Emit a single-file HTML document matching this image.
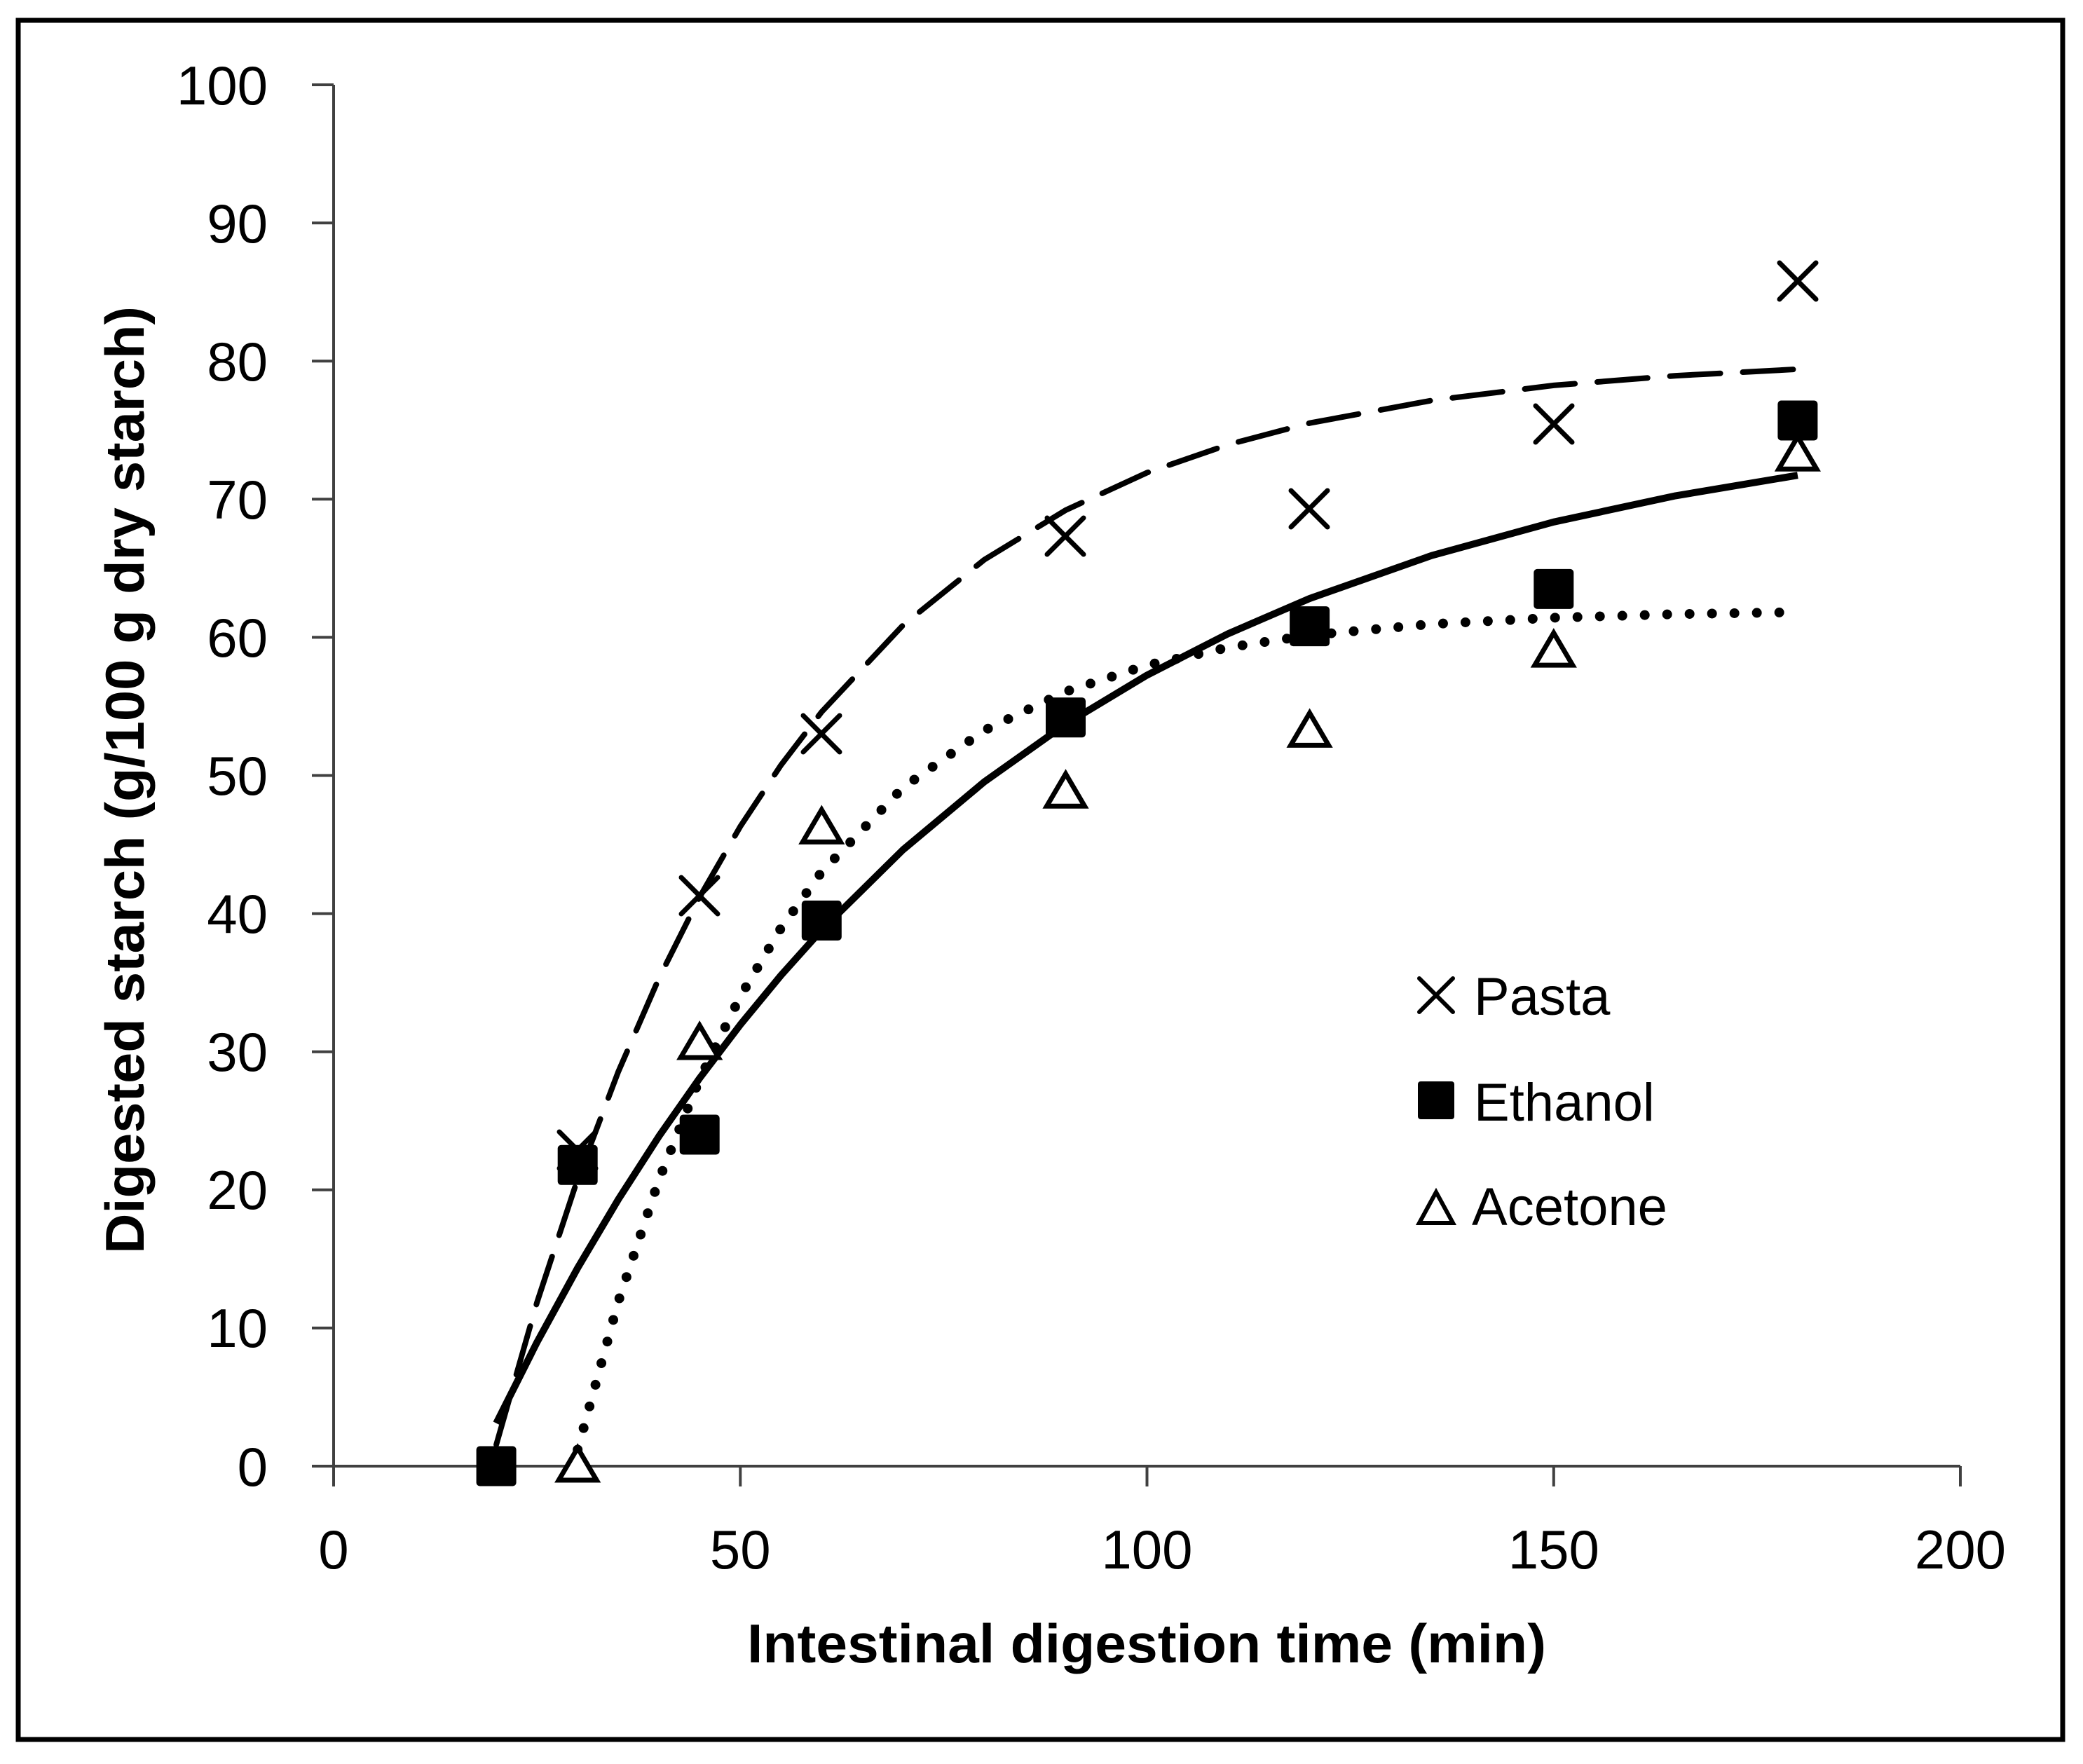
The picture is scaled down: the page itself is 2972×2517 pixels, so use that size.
<!DOCTYPE html>
<html><head><meta charset="utf-8"><style>html,body{margin:0;padding:0;background:#fff}svg{display:block}</style></head>
<body>
<svg width="2972" height="2517" viewBox="0 0 2972 2517" xmlns="http://www.w3.org/2000/svg">
<rect x="0" y="0" width="2972" height="2517" fill="#fff"/>
<rect x="26" y="29" width="2917" height="2453" fill="none" stroke="#000" stroke-width="7"/>
<g stroke="#404040" stroke-width="4" fill="none">
<line x1="476" y1="121" x2="476" y2="2121"/>
<line x1="445" y1="2092" x2="2797" y2="2092"/>
<line x1="445" y1="121" x2="476" y2="121"/>
<line x1="445" y1="318.1" x2="476" y2="318.1"/>
<line x1="445" y1="515.2" x2="476" y2="515.2"/>
<line x1="445" y1="712.3" x2="476" y2="712.3"/>
<line x1="445" y1="909.4" x2="476" y2="909.4"/>
<line x1="445" y1="1106.5" x2="476" y2="1106.5"/>
<line x1="445" y1="1303.6" x2="476" y2="1303.6"/>
<line x1="445" y1="1500.7" x2="476" y2="1500.7"/>
<line x1="445" y1="1697.8" x2="476" y2="1697.8"/>
<line x1="445" y1="1894.9" x2="476" y2="1894.9"/>
<line x1="1056.3" y1="2092" x2="1056.3" y2="2121"/>
<line x1="1636.5" y1="2092" x2="1636.5" y2="2121"/>
<line x1="2216.8" y1="2092" x2="2216.8" y2="2121"/>
<line x1="2797" y1="2092" x2="2797" y2="2121"/>
</g>
<g font-family="Liberation Sans, DejaVu Sans, sans-serif" font-size="78" fill="#000" text-anchor="end">
<text x="382" y="149">100</text>
<text x="382" y="346">90</text>
<text x="382" y="543">80</text>
<text x="382" y="740">70</text>
<text x="382" y="937">60</text>
<text x="382" y="1134">50</text>
<text x="382" y="1331">40</text>
<text x="382" y="1528">30</text>
<text x="382" y="1725">20</text>
<text x="382" y="1922">10</text>
<text x="382" y="2120">0</text>
</g>
<g font-family="Liberation Sans, DejaVu Sans, sans-serif" font-size="78" fill="#000" text-anchor="middle">
<text x="476" y="2238">0</text>
<text x="1056.3" y="2238">50</text>
<text x="1636.5" y="2238">100</text>
<text x="2216.8" y="2238">150</text>
<text x="2797" y="2238">200</text>
</g>
<text x="1066" y="2372" font-family="Liberation Sans, sans-serif" font-weight="bold" font-size="78" textLength="1140" lengthAdjust="spacingAndGlyphs">Intestinal digestion time (min)</text>
<text transform="translate(205,1113) rotate(-90)" x="0" y="0" text-anchor="middle" font-family="Liberation Sans, sans-serif" font-weight="bold" font-size="78" textLength="1352" lengthAdjust="spacingAndGlyphs">Digested starch (g/100 g dry starch)</text>

<!-- curves -->
<polyline fill="none" stroke="#000" stroke-width="8" stroke-dasharray="72 32" stroke-linecap="round" points="708.1,2061.3 766.1,1858.6 824.2,1682.2 882.2,1529.1 940.2,1395.8 998.2,1280.1 1056.3,1179.2 1114.3,1091.7 1172.3,1015.8 1288.4,892.1 1404.4,798.6 1520.5,727.9 1636.5,674.5 1752.6,634.3 1868.6,603.7 2042.7,571.4 2216.8,549.9 2390.8,536.1 2564.9,526.8"/>
<polyline fill="none" stroke="#000" stroke-width="10" stroke-linejoin="round" points="708.1,2030.7 766.1,1915.4 824.2,1809.2 882.2,1711.4 940.2,1621.3 998.2,1538.5 1056.3,1462.1 1114.3,1391.7 1172.3,1327.0 1288.4,1212.5 1404.4,1115.6 1520.5,1033.2 1636.5,963.4 1752.6,904.1 1868.6,854.0 2042.7,792.7 2216.8,744.8 2390.8,707.4 2564.9,678.2"/>
<polyline fill="none" stroke="#000" stroke-width="14" stroke-dasharray="0 32" stroke-linecap="round" points="824.2,2068.5 882.2,1857.1 940.2,1683.2 998.2,1539.7 1056.3,1421.7 1114.3,1324.3 1172.3,1244.1 1288.4,1123.8 1404.4,1042.2 1520.5,986.9 1636.5,949.2 1752.6,923.8 1868.6,906.4 2042.7,890.5 2216.8,881.4 2390.8,876.3 2564.9,873.5"/>

<!-- Pasta X markers -->
<g stroke="#000" stroke-width="7" stroke-linecap="round">
<path d="M798,1615 l52,52 m0,-52 l-52,52"/>
<path d="M972,1252 l52,52 m0,-52 l-52,52"/>
<path d="M1146,1021 l52,52 m0,-52 l-52,52"/>
<path d="M1494,739 l52,52 m0,-52 l-52,52"/>
<path d="M1842,700 l52,52 m0,-52 l-52,52"/>
<path d="M2191,579 l52,52 m0,-52 l-52,52"/>
<path d="M2539,375 l52,52 m0,-52 l-52,52"/>
</g>
<!-- Ethanol squares -->
<g fill="#000">
<rect x="679.6" y="2063.5" width="57" height="57" rx="5"/>
<rect x="795.7" y="1633.8" width="57" height="57" rx="5"/>
<rect x="969.7" y="1590.5" width="57" height="57" rx="5"/>
<rect x="1143.8" y="1285" width="57" height="57" rx="5"/>
<rect x="1492" y="995.2" width="57" height="57" rx="5"/>
<rect x="1840.1" y="865.1" width="57" height="57" rx="5"/>
<rect x="2188.3" y="811.9" width="57" height="57" rx="5"/>
<rect x="2536.4" y="571.5" width="57" height="57" rx="5"/>
</g>
<!-- Acetone triangles -->
<g fill="#fff" stroke="#000" stroke-width="7" stroke-linejoin="miter">
<path d="M824.2,2066 l27,46 h-54 z"/>
<path d="M998.2,1463 l27,46 h-54 z"/>
<path d="M1172.3,1155.4 l27,46 h-54 z"/>
<path d="M1520.5,1104.2 l27,46 h-54 z"/>
<path d="M1868.6,1017.4 l27,46 h-54 z"/>
<path d="M2216.8,903.1 l27,46 h-54 z"/>
<path d="M2564.9,623.2 l27,46 h-54 z"/>
</g>

<!-- legend -->
<path d="M2025,1396 l48,48 m0,-48 l-48,48" stroke="#000" stroke-width="6" stroke-linecap="round"/>
<rect x="2023" y="1543" width="52" height="54" rx="4" fill="#000"/>
<path d="M2049,1701 l24,44 h-48 z" fill="#fff" stroke="#000" stroke-width="6"/>
<g font-family="Liberation Sans, DejaVu Sans, sans-serif" font-size="76" fill="#000">
<text x="2103" y="1448">Pasta</text>
<text x="2103" y="1599">Ethanol</text>
<text x="2100" y="1748">Acetone</text>
</g>
</svg>
</body></html>
